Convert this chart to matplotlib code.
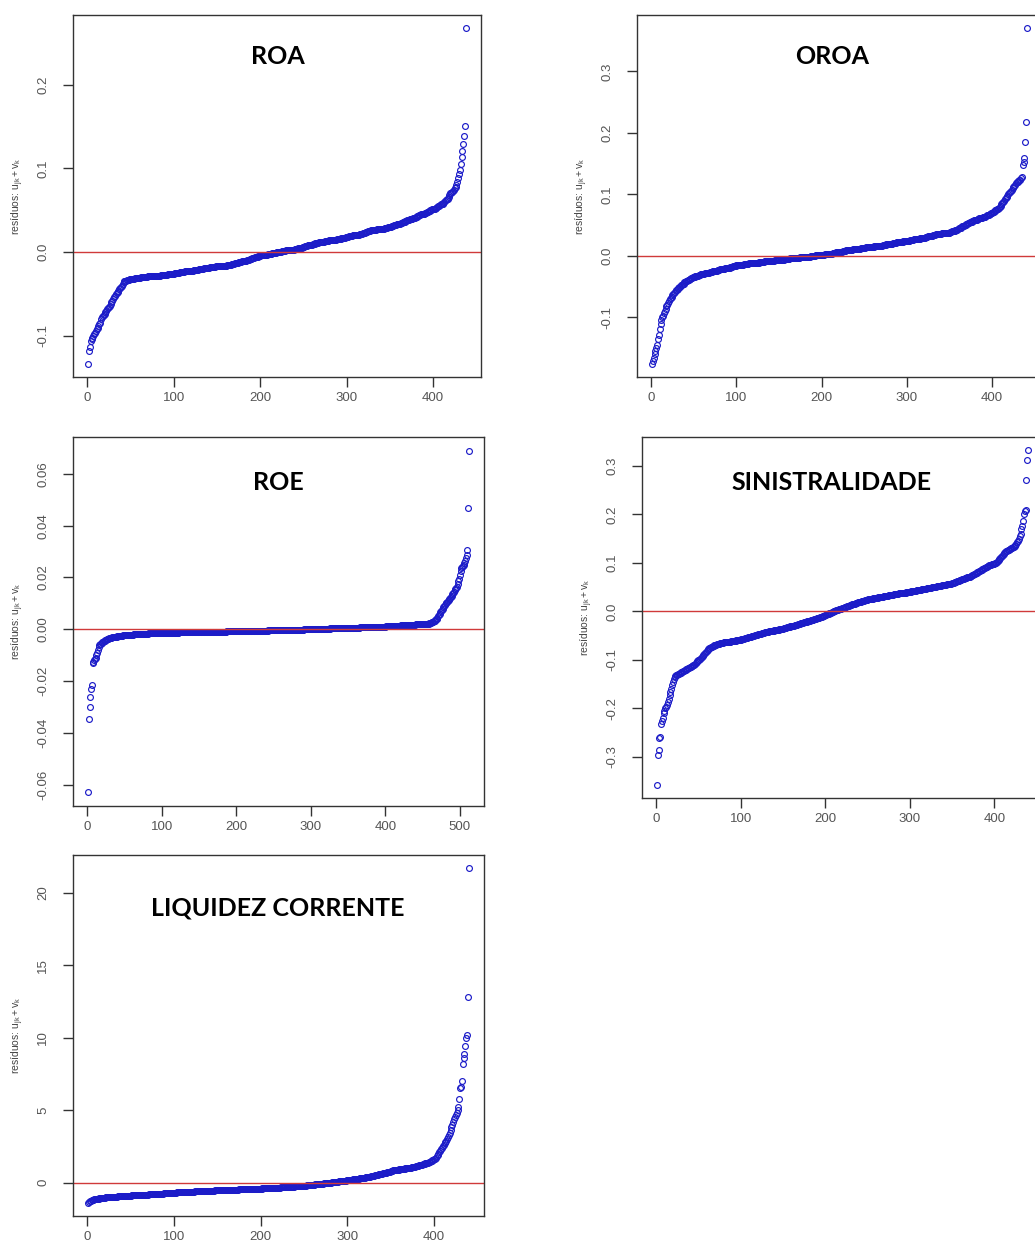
import numpy as np
import matplotlib
matplotlib.use("Agg")
import matplotlib.pyplot as plt

# residuals (sorted), in scaled integer units
roa_milli = [
    -133, -118, -113, -106, -104, -102, -100, -98, -96, -94,
    -92, -90, -88, -86, -84, -80, -77, -76, -75, -74,
    -72, -70, -68, -67, -66, -64, -62, -60, -58, -56,
    -54, -52, -50, -49, -48, -46, -44, -43, -42, -40,
    -38, -36, -35, -34, -34, -33, -33, -33, -32, -32,
    -32, -32, -32, -32, -31, -31, -31, -31, -31, -31,
    -31, -30, -30, -30, -30, -30, -30, -30, -30, -29,
    -29, -29, -29, -29, -29, -29, -28, -28, -28, -28,
    -28, -28, -28, -28, -27, -27, -27, -27, -27, -27,
    -27, -27, -26, -26, -26, -26, -26, -26, -26, -26,
    -25, -25, -25, -25, -25, -25, -24, -24, -24, -24,
    -24, -24, -23, -23, -23, -23, -23, -22, -22, -22,
    -22, -22, -21, -21, -21, -21, -21, -21, -20, -20,
    -20, -20, -20, -20, -19, -19, -19, -19, -19, -19,
    -19, -18, -18, -18, -18, -18, -18, -18, -17, -17,
    -17, -17, -17, -17, -17, -16, -16, -16, -16, -16,
    -16, -15, -15, -15, -15, -15, -14, -14, -14, -14,
    -13, -13, -13, -13, -12, -12, -12, -12, -11, -11,
    -11, -10, -10, -10, -9, -9, -9, -8, -8, -8,
    -7, -7, -7, -6, -6, -6, -6, -5, -5, -5,
    -4, -4, -4, -4, -3, -3, -3, -3, -2, -2,
    -2, -2, -2, -1, -1, -1, -1, -1, 0, 0,
    0, 0, 0, 0, 1, 1, 1, 1, 1, 2,
    2, 2, 2, 2, 3, 3, 3, 3, 3, 4,
    4, 4, 4, 5, 5, 5, 5, 5, 6, 6,
    6, 7, 7, 7, 8, 8, 8, 9, 9, 9,
    10, 10, 10, 11, 11, 11, 11, 12, 12, 12,
    12, 12, 12, 12, 13, 13, 13, 13, 13, 14,
    14, 14, 14, 15, 15, 15, 15, 15, 16, 16,
    16, 16, 16, 17, 17, 17, 17, 17, 18, 18,
    18, 18, 19, 19, 19, 19, 20, 20, 20, 20,
    21, 21, 21, 21, 22, 22, 22, 22, 23, 23,
    23, 24, 24, 24, 25, 25, 25, 26, 26, 26,
    27, 27, 27, 27, 28, 28, 28, 28, 28, 28,
    28, 28, 28, 29, 29, 29, 29, 30, 30, 30,
    30, 31, 31, 31, 32, 32, 32, 33, 33, 34,
    34, 34, 35, 35, 36, 36, 36, 37, 37, 38,
    38, 38, 39, 39, 40, 40, 41, 41, 41, 42,
    42, 43, 43, 44, 44, 45, 45, 45, 46, 46,
    47, 47, 48, 48, 49, 49, 50, 50, 51, 51,
    52, 52, 53, 53, 54, 55, 55, 56, 57, 57,
    58, 59, 60, 61, 62, 63, 64, 66, 68, 70,
    71, 72, 73, 74, 76, 78, 80, 84, 89, 93,
    98, 105, 114, 121, 129, 139, 151, 267,
]

oroa_milli = [
    -175, -170, -166, -160, -154, -150, -144, -135, -128, -118,
    -110, -104, -100, -97, -93, -90, -86, -82, -80, -77,
    -74, -70, -68, -66, -64, -62, -60, -58, -56, -55,
    -53, -52, -51, -50, -48, -47, -46, -45, -43, -42,
    -41, -40, -39, -39, -38, -37, -36, -36, -35, -34,
    -34, -33, -33, -32, -32, -31, -31, -30, -30, -30,
    -29, -29, -28, -28, -28, -27, -27, -27, -26, -26,
    -26, -25, -25, -25, -24, -24, -24, -23, -23, -23,
    -22, -22, -22, -21, -21, -21, -20, -20, -20, -19,
    -19, -19, -18, -18, -18, -17, -17, -16, -16, -15,
    -15, -15, -15, -14, -14, -14, -14, -14, -13, -13,
    -13, -13, -13, -13, -12, -12, -12, -12, -12, -12,
    -11, -11, -11, -11, -11, -11, -10, -10, -10, -10,
    -10, -10, -9, -9, -9, -9, -9, -9, -8, -8,
    -8, -8, -8, -8, -7, -7, -7, -7, -7, -7,
    -6, -6, -6, -6, -6, -6, -5, -5, -5, -5,
    -5, -5, -4, -4, -4, -4, -4, -4, -3, -3,
    -3, -3, -3, -3, -2, -2, -2, -2, -2, -2,
    -1, -1, -1, -1, -1, -1, 0, 0, 0, 0,
    0, 0, 1, 1, 1, 1, 1, 1, 2, 2,
    2, 2, 2, 3, 3, 3, 3, 3, 4, 4,
    4, 4, 5, 5, 5, 5, 6, 6, 6, 6,
    7, 7, 7, 7, 8, 8, 8, 8, 9, 9,
    9, 9, 10, 10, 10, 10, 11, 11, 11, 11,
    12, 12, 12, 12, 12, 13, 13, 13, 13, 13,
    13, 14, 14, 14, 14, 14, 15, 15, 15, 15,
    15, 16, 16, 16, 16, 16, 17, 17, 17, 17,
    17, 18, 18, 18, 18, 19, 19, 19, 19, 20,
    20, 20, 20, 21, 21, 21, 21, 22, 22, 22,
    22, 23, 23, 23, 23, 24, 24, 24, 24, 25,
    25, 25, 25, 26, 26, 26, 26, 27, 27, 27,
    27, 28, 28, 28, 28, 29, 29, 29, 30, 30,
    30, 31, 31, 31, 32, 32, 32, 33, 33, 33,
    34, 34, 34, 35, 35, 35, 36, 36, 36, 36,
    37, 37, 37, 37, 37, 37, 38, 38, 38, 38,
    39, 39, 40, 40, 41, 41, 42, 42, 43, 44,
    45, 45, 46, 47, 48, 48, 49, 50, 51, 52,
    52, 53, 54, 55, 55, 56, 57, 57, 58, 58,
    59, 59, 60, 60, 61, 61, 62, 62, 63, 63,
    64, 64, 65, 66, 67, 67, 68, 69, 70, 70,
    71, 72, 73, 74, 75, 76, 77, 78, 80, 82,
    84, 86, 88, 90, 92, 94, 96, 98, 100, 102,
    104, 106, 108, 110, 112, 114, 116, 118, 120, 121,
    122, 123, 124, 126, 128, 148, 152, 159, 185, 218,
    370,
]

# ROE in units of 1e-4
roe_e4 = [
    -630, -345, -300, -262, -232, -215, -130, -125, -120, -115,
    -110, -100, -90, -80, -70, -62, -58, -55, -52, -50,
    -48, -46, -44, -42, -40, -38, -37, -36, -35, -34,
    -33, -32, -31, -30, -30, -29, -29, -28, -28, -27,
    -27, -26, -26, -26, -25, -25, -25, -24, -24, -24,
    -23, -23, -23, -22, -22, -22, -22, -21, -21, -21,
    -21, -20, -20, -20, -20, -19, -19, -19, -19, -19,
    -18, -18, -18, -18, -18, -17, -17, -17, -17, -17,
    -17, -16, -16, -16, -16, -16, -16, -16, -15, -15,
    -15, -15, -15, -15, -15, -15, -14, -14, -14, -14,
    -14, -14, -14, -14, -14, -14, -13, -13, -13, -13,
    -13, -13, -13, -13, -13, -13, -13, -13, -13, -13,
    -13, -13, -12, -12, -12, -12, -12, -12, -12, -12,
    -12, -12, -12, -12, -12, -12, -12, -12, -11, -11,
    -11, -11, -11, -11, -11, -11, -11, -11, -11, -11,
    -11, -11, -11, -11, -10, -10, -10, -10, -10, -10,
    -10, -10, -10, -10, -10, -10, -10, -10, -10, -10,
    -9, -9, -9, -9, -9, -9, -9, -9, -9, -9,
    -9, -9, -9, -9, -9, -9, -8, -8, -8, -8,
    -8, -8, -8, -8, -8, -8, -8, -8, -8, -8,
    -8, -8, -8, -8, -8, -8, -7, -7, -7, -7,
    -7, -7, -7, -7, -7, -7, -7, -7, -6, -6,
    -6, -6, -6, -6, -6, -6, -6, -6, -6, -6,
    -5, -5, -5, -5, -5, -5, -5, -5, -5, -5,
    -5, -5, -4, -4, -4, -4, -4, -4, -4, -4,
    -4, -4, -4, -4, -3, -3, -3, -3, -3, -3,
    -3, -3, -3, -3, -3, -3, -2, -2, -2, -2,
    -2, -2, -2, -2, -2, -2, -2, -2, -1, -1,
    -1, -1, -1, -1, -1, -1, -1, -1, -1, -1,
    0, 0, 0, 0, 0, 0, 0, 0, 0, 0,
    0, 0, 0, 0, 0, 1, 1, 1, 1, 1,
    1, 1, 1, 1, 1, 2, 2, 2, 2, 2,
    2, 2, 2, 2, 2, 3, 3, 3, 3, 3,
    3, 3, 3, 3, 3, 4, 4, 4, 4, 4,
    4, 4, 4, 4, 4, 5, 5, 5, 5, 5,
    5, 5, 5, 5, 5, 6, 6, 6, 6, 6,
    6, 6, 6, 6, 6, 7, 7, 7, 7, 7,
    7, 7, 7, 7, 7, 8, 8, 8, 8, 8,
    8, 8, 8, 8, 8, 9, 9, 9, 9, 9,
    9, 9, 9, 9, 9, 10, 10, 10, 10, 10,
    11, 11, 11, 11, 11, 12, 12, 12, 12, 12,
    13, 13, 13, 13, 13, 14, 14, 14, 14, 14,
    15, 15, 15, 15, 15, 16, 16, 16, 16, 16,
    17, 17, 17, 17, 17, 18, 18, 18, 18, 18,
    19, 19, 19, 19, 19, 20, 20, 20, 20, 20,
    21, 21, 21, 21, 21, 22, 22, 22, 23, 23,
    25, 27, 28, 30, 31, 33, 35, 38, 40, 45,
    50, 55, 60, 65, 70, 75, 80, 85, 90, 95,
    100, 103, 106, 110, 113, 116, 120, 125, 130, 135,
    140, 145, 150, 155, 160, 165, 175, 185, 195, 210,
    225, 235, 240, 245, 250, 255, 262, 275, 285, 305,
    470, 690,
]

sinis_milli = [
    -357, -295, -285, -260, -258, -232, -225, -220, -210, -205,
    -200, -197, -192, -187, -180, -172, -166, -160, -151, -145,
    -140, -136, -134, -132, -130, -129, -128, -127, -126, -125,
    -124, -123, -122, -121, -120, -119, -118, -117, -116, -115,
    -114, -113, -112, -111, -110, -108, -107, -105, -103, -101,
    -100, -98, -96, -94, -92, -90, -88, -86, -84, -82,
    -80, -78, -76, -75, -74, -73, -72, -71, -70, -69,
    -69, -68, -68, -67, -67, -66, -66, -65, -65, -64,
    -64, -64, -63, -63, -63, -62, -62, -62, -61, -61,
    -61, -60, -60, -60, -59, -59, -59, -58, -58, -58,
    -57, -57, -56, -56, -55, -55, -54, -54, -53, -53,
    -52, -52, -51, -51, -50, -50, -49, -49, -48, -48,
    -47, -47, -46, -46, -45, -45, -44, -44, -43, -43,
    -42, -42, -42, -41, -41, -41, -40, -40, -40, -39,
    -39, -39, -38, -38, -38, -37, -37, -37, -36, -36,
    -35, -35, -34, -34, -33, -33, -32, -32, -31, -30,
    -30, -29, -29, -28, -28, -27, -27, -26, -25, -25,
    -24, -24, -23, -23, -22, -22, -21, -21, -20, -20,
    -19, -19, -18, -18, -17, -17, -16, -16, -15, -14,
    -14, -13, -13, -12, -12, -11, -10, -10, -9, -8,
    -7, -6, -6, -5, -4, -3, -3, -2, -1, 0,
    1, 1, 2, 3, 3, 4, 5, 5, 6, 7,
    7, 8, 9, 9, 10, 11, 11, 12, 13, 13,
    14, 15, 15, 16, 16, 17, 18, 18, 19, 19,
    20, 20, 21, 21, 22, 22, 23, 23, 24, 24,
    25, 25, 25, 26, 26, 26, 27, 27, 27, 28,
    28, 28, 29, 29, 29, 30, 30, 30, 31, 31,
    31, 32, 32, 32, 33, 33, 33, 34, 34, 34,
    35, 35, 35, 36, 36, 36, 37, 37, 37, 38,
    38, 38, 39, 39, 39, 40, 40, 40, 41, 41,
    41, 42, 42, 42, 43, 43, 43, 44, 44, 44,
    45, 45, 45, 46, 46, 46, 47, 47, 47, 48,
    48, 48, 49, 49, 49, 50, 50, 50, 51, 51,
    51, 52, 52, 52, 53, 53, 53, 54, 54, 54,
    55, 55, 55, 56, 56, 56, 57, 57, 57, 58,
    59, 59, 60, 60, 61, 62, 62, 63, 64, 64,
    65, 66, 66, 67, 68, 68, 69, 70, 70, 71,
    72, 73, 74, 75, 76, 77, 78, 79, 80, 81,
    82, 83, 84, 85, 86, 87, 88, 89, 90, 91,
    92, 93, 94, 95, 96, 96, 97, 97, 98, 98,
    99, 100, 102, 104, 106, 108, 110, 112, 114, 116,
    118, 120, 122, 124, 125, 126, 127, 128, 129, 130,
    131, 132, 133, 135, 137, 140, 143, 146, 150, 155,
    160, 170, 177, 187, 200, 207, 210, 270, 313, 332,
]

# LIQUIDEZ CORRENTE in units of 0.01
liq_centi = [
    -139, -132, -128, -125, -122, -120, -118, -116, -115, -114,
    -113, -112, -111, -110, -109, -108, -107, -106, -105, -104,
    -103, -103, -102, -102, -101, -101, -100, -100, -99, -99,
    -98, -98, -97, -97, -96, -96, -95, -95, -94, -94,
    -93, -93, -92, -92, -91, -91, -91, -90, -90, -90,
    -89, -89, -89, -88, -88, -88, -87, -87, -87, -86,
    -86, -86, -85, -85, -84, -84, -84, -83, -83, -83,
    -82, -82, -81, -81, -81, -80, -80, -79, -79, -79,
    -78, -78, -77, -77, -77, -76, -76, -75, -75, -75,
    -74, -74, -73, -73, -73, -72, -72, -71, -71, -70,
    -70, -70, -69, -69, -69, -68, -68, -68, -67, -67,
    -67, -66, -66, -66, -65, -65, -65, -64, -64, -64,
    -63, -63, -63, -62, -62, -62, -61, -61, -61, -60,
    -60, -60, -59, -59, -59, -58, -58, -58, -57, -57,
    -57, -57, -56, -56, -56, -56, -55, -55, -55, -55,
    -54, -54, -54, -54, -53, -53, -53, -53, -52, -52,
    -52, -52, -51, -51, -51, -51, -50, -50, -50, -50,
    -49, -49, -49, -49, -48, -48, -48, -48, -47, -47,
    -47, -47, -46, -46, -46, -46, -45, -45, -45, -45,
    -44, -44, -44, -44, -43, -43, -43, -43, -42, -42,
    -42, -41, -41, -41, -40, -40, -40, -39, -39, -39,
    -38, -38, -38, -37, -37, -37, -36, -36, -36, -35,
    -35, -35, -34, -34, -33, -33, -33, -32, -32, -31,
    -31, -31, -30, -30, -29, -29, -28, -28, -27, -27,
    -26, -26, -25, -25, -24, -24, -23, -23, -22, -22,
    -21, -21, -20, -19, -19, -18, -17, -17, -16, -15,
    -15, -14, -13, -13, -12, -11, -10, -10, -9, -8,
    -7, -7, -6, -5, -4, -4, -3, -2, -1, 0,
    0, 1, 2, 3, 3, 4, 5, 6, 6, 7,
    8, 9, 9, 10, 11, 12, 12, 13, 14, 14,
    15, 16, 17, 18, 19, 20, 21, 22, 23, 24,
    25, 26, 27, 28, 29, 30, 31, 32, 33, 34,
    35, 36, 37, 38, 40, 41, 42, 44, 45, 47,
    48, 50, 51, 53, 54, 56, 57, 59, 60, 62,
    63, 65, 66, 68, 69, 71, 72, 74, 76, 78,
    80, 82, 83, 84, 85, 86, 87, 88, 89, 90,
    91, 92, 93, 94, 95, 96, 97, 98, 99, 100,
    101, 102, 103, 104, 105, 106, 108, 110, 112, 114,
    115, 116, 118, 120, 122, 124, 126, 128, 130, 132,
    134, 136, 138, 140, 143, 146, 150, 153, 156, 160,
    165, 172, 180, 190, 200, 210, 220, 230, 240, 250,
    260, 270, 280, 290, 300, 315, 330, 345, 360, 380,
    400, 420, 440, 455, 465, 480, 500, 520, 580, 650,
    660, 700, 820, 860, 890, 940, 1000, 1020, 1280, 2170,
]

titles = ["ROA", "OROA", "ROE", "SINISTRALIDADE", "LIQUIDEZ CORRENTE"]
series = [
    np.array(roa_milli) / 1000,
    np.array(oroa_milli) / 1000,
    np.array(roe_e4) / 10000,
    np.array(sinis_milli) / 1000,
    np.array(liq_centi) / 100,
]
yticks = [
    [-0.1, 0.0, 0.1, 0.2],
    [-0.1, 0.0, 0.1, 0.2, 0.3],
    [-0.06, -0.04, -0.02, 0.0, 0.02, 0.04, 0.06],
    [-0.3, -0.2, -0.1, 0.0, 0.1, 0.2, 0.3],
    [0, 5, 10, 15, 20],
]
ytick_labels = [
    ["-0.1", "0.0", "0.1", "0.2"],
    ["-0.1", "0.0", "0.1", "0.2", "0.3"],
    ["-0.06", "-0.04", "-0.02", "0.00", "0.02", "0.04", "0.06"],
    ["-0.3", "-0.2", "-0.1", "0.0", "0.1", "0.2", "0.3"],
    ["0", "5", "10", "15", "20"],
]
xticks = [
    [0, 100, 200, 300, 400],
    [0, 100, 200, 300, 400],
    [0, 100, 200, 300, 400, 500],
    [0, 100, 200, 300, 400],
    [0, 100, 200, 300, 400],
]

W, H = 1035, 1244
# axes boxes in pixels: left, top, right, bottom
boxes = [
    (73, 15, 481, 377),
    (637, 15, 1042, 377),
    (73, 437, 484, 806),
    (642, 437, 1043, 798),
    (73, 855, 484, 1216),
]
title_pos = [(278, 57), (832, 57), (278, 482), (832, 482), (278, 908)]

plt.rcParams["font.family"] = ["Liberation Sans", "DejaVu Sans"]
plt.rcParams["axes.unicode_minus"] = False
plt.rcParams["mathtext.fontset"] = "custom"
plt.rcParams["mathtext.rm"] = "Liberation Sans"
plt.rcParams["mathtext.it"] = "Liberation Sans"

fig = plt.figure(figsize=(W / 100, H / 100), dpi=100)

for k in range(5):
    l, t, r, b = boxes[k]
    ax = fig.add_axes([l / W, 1 - b / H, (r - l) / W, (b - t) / H])
    y = series[k]
    x = np.arange(1, len(y) + 1)
    ax.plot(x, y, 'o', ms=4.2, mfc='none', mec='#1c1cc8', mew=0.85)
    ax.axhline(0, color='#d03a3a', lw=1.0)
    ax.margins(x=0.04, y=0.04)
    ax.set_xticks(xticks[k])
    ax.set_yticks(yticks[k])
    ax.set_yticklabels(ytick_labels[k], rotation=90, va='center')
    ax.tick_params(direction='out', length=7, width=1, color='#333333',
                   labelsize=9.5, labelcolor='#555555')
    ax.tick_params(axis='x', pad=3.5)
    ax.tick_params(axis='y', pad=10)
    for s in ax.spines.values():
        s.set_color('#333333')
        s.set_linewidth(1)
    ax.set_ylabel(r'resíduos: $\mathrm{u_{jk} + v_k}$', fontsize=7.5,
                  color='#444444', labelpad=8)
    tx, ty = title_pos[k]
    fig.text(tx / W, 1 - ty / H, titles[k], ha='center', va='center',
             fontsize=18, fontweight='bold', family=['Lato', 'DejaVu Sans'])

fig.savefig("out.png", dpi=100)
